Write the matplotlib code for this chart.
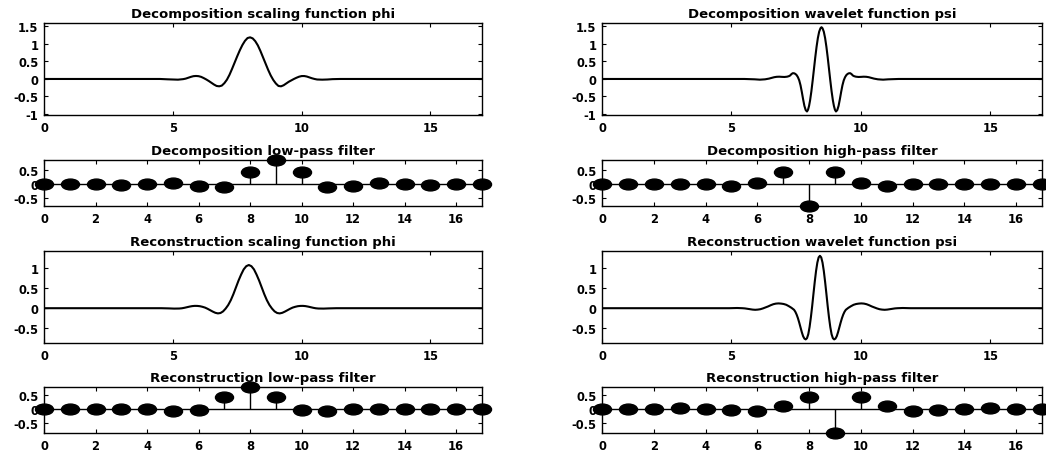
import matplotlib
matplotlib.use('Agg')
import matplotlib.pyplot as plt
from matplotlib.path import Path
from matplotlib.markers import MarkerStyle
from matplotlib.transforms import Affine2D

plt.rcParams['font.family'] = ['DejaVu Sans']

# ---------------- data ----------------
filter_index = list(range(18))

dec_lo = [0, 0.0019, -0.0019, -0.0170, 0.0119, 0.0497, -0.0773, -0.0941, 0.4208,
          0.8259, 0.4208, -0.0941, -0.0773, 0.0497, 0.0119, -0.0170, -0.0019, 0.0019]
dec_hi = [0, 0, 0, 0.0144, -0.0145, -0.0787, 0.0404, 0.4178, -0.7589,
          0.4178, 0.0404, -0.0787, -0.0145, 0.0144, 0, 0, 0, 0]
rec_lo = [0, 0, 0, 0.0144, 0.0145, -0.0787, -0.0404, 0.4178, 0.7589,
          0.4178, -0.0404, -0.0787, 0.0145, 0.0144, 0, 0, 0, 0]
rec_hi = [0, -0.0019, -0.0019, 0.0170, 0.0119, -0.0497, -0.0773, 0.0941, 0.4208,
          -0.8259, 0.4208, 0.0941, -0.0773, -0.0497, 0.0119, 0.0170, -0.0019, -0.0019]

dec_phi_pts = [(0, 0), (4.5, 0), (4.8, -0.01), (5.0, -0.015), (5.2, -0.02), (5.4, -0.005),
               (5.5, 0.01), (5.6, 0.035), (5.7, 0.06), (5.8, 0.08), (5.9, 0.086), (6.0, 0.08),
               (6.1, 0.06), (6.2, 0.025), (6.3, -0.015), (6.4, -0.06), (6.5, -0.11), (6.6, -0.16),
               (6.7, -0.20), (6.8, -0.21), (6.9, -0.19), (7.0, -0.12), (7.1, -0.02), (7.2, 0.12),
               (7.3, 0.29), (7.4, 0.47), (7.5, 0.65), (7.6, 0.82), (7.7, 0.97), (7.8, 1.09),
               (7.9, 1.17), (8.0, 1.19), (8.1, 1.16), (8.2, 1.08), (8.3, 0.96), (8.4, 0.80),
               (8.5, 0.62), (8.6, 0.44), (8.7, 0.26), (8.8, 0.10), (8.9, -0.03), (9.0, -0.13),
               (9.1, -0.20), (9.2, -0.21), (9.3, -0.18), (9.4, -0.13), (9.5, -0.08), (9.6, -0.04),
               (9.7, 0.0), (9.8, 0.035), (9.9, 0.065), (10.0, 0.083), (10.1, 0.084), (10.2, 0.07),
               (10.3, 0.045), (10.4, 0.02), (10.5, 0.0), (10.6, -0.015), (10.8, -0.02),
               (11.0, -0.015), (11.2, -0.005), (11.5, 0), (17, 0)]

dec_psi_pts = [(0, 0), (5.5, 0), (5.9, -0.01), (6.1, -0.02), (6.3, -0.01), (6.45, 0.01),
               (6.55, 0.03), (6.65, 0.05), (6.75, 0.062), (6.85, 0.065), (6.95, 0.06),
               (7.05, 0.057), (7.15, 0.065), (7.22, 0.08), (7.27, 0.10), (7.32, 0.14),
               (7.37, 0.165), (7.42, 0.163), (7.47, 0.145), (7.52, 0.11), (7.57, 0.05),
               (7.62, -0.04), (7.67, -0.18), (7.72, -0.37), (7.77, -0.58), (7.82, -0.77),
               (7.87, -0.89), (7.92, -0.93), (7.96, -0.88), (8.0, -0.77), (8.04, -0.61),
               (8.09, -0.35), (8.14, -0.04), (8.19, 0.29), (8.24, 0.62), (8.29, 0.92),
               (8.34, 1.17), (8.39, 1.35), (8.44, 1.45), (8.48, 1.48), (8.52, 1.45),
               (8.57, 1.35), (8.62, 1.17), (8.67, 0.92), (8.72, 0.62), (8.77, 0.29),
               (8.82, -0.04), (8.87, -0.35), (8.92, -0.61), (8.96, -0.77), (9.0, -0.88),
               (9.04, -0.93), (9.09, -0.89), (9.14, -0.77), (9.19, -0.58), (9.24, -0.37),
               (9.29, -0.18), (9.34, -0.04), (9.39, 0.05), (9.44, 0.11), (9.49, 0.145),
               (9.54, 0.163), (9.59, 0.165), (9.64, 0.14), (9.69, 0.10), (9.74, 0.08),
               (9.81, 0.065), (9.91, 0.057), (10.01, 0.06), (10.11, 0.065), (10.21, 0.062),
               (10.31, 0.05), (10.41, 0.03), (10.51, 0.01), (10.66, -0.01), (10.86, -0.02),
               (11.06, -0.01), (11.46, 0), (17, 0)]

rec_phi_pts = [(0, 0), (4.55, 0), (4.85, -0.005), (5.05, -0.01), (5.25, -0.008), (5.35, -0.002),
               (5.45, 0.01), (5.55, 0.025), (5.65, 0.04), (5.75, 0.052), (5.85, 0.058),
               (5.95, 0.057), (6.05, 0.05), (6.15, 0.035), (6.25, 0.015), (6.35, -0.015),
               (6.45, -0.05), (6.55, -0.085), (6.65, -0.115), (6.75, -0.13), (6.85, -0.12),
               (6.95, -0.08), (7.05, -0.01), (7.15, 0.08), (7.25, 0.20), (7.35, 0.35),
               (7.45, 0.52), (7.55, 0.69), (7.65, 0.84), (7.75, 0.97), (7.85, 1.05),
               (7.95, 1.08), (8.05, 1.05), (8.15, 0.97), (8.25, 0.84), (8.35, 0.69),
               (8.45, 0.52), (8.55, 0.35), (8.65, 0.20), (8.75, 0.08), (8.85, -0.01),
               (8.95, -0.08), (9.05, -0.12), (9.15, -0.13), (9.25, -0.115), (9.35, -0.085),
               (9.45, -0.05), (9.55, -0.015), (9.65, 0.015), (9.75, 0.035), (9.85, 0.05),
               (9.95, 0.057), (10.05, 0.058), (10.15, 0.052), (10.25, 0.04), (10.35, 0.025),
               (10.45, 0.01), (10.55, -0.002), (10.65, -0.008), (10.85, -0.01),
               (11.05, -0.005), (11.35, 0), (17, 0)]

rec_psi_pts = [(0, 0), (4.92, 0), (5.22, 0.005), (5.42, 0.0), (5.52, -0.005), (5.62, -0.015),
               (5.72, -0.025), (5.82, -0.035), (5.92, -0.04), (6.02, -0.035), (6.12, -0.025),
               (6.22, -0.005), (6.32, 0.02), (6.42, 0.045), (6.52, 0.075), (6.62, 0.10),
               (6.72, 0.115), (6.82, 0.12), (6.92, 0.115), (7.02, 0.105), (7.12, 0.085),
               (7.22, 0.05), (7.32, 0.01), (7.42, -0.04), (7.47, -0.09), (7.52, -0.16),
               (7.57, -0.25), (7.62, -0.36), (7.67, -0.48), (7.72, -0.60), (7.77, -0.70),
               (7.82, -0.76), (7.87, -0.78), (7.92, -0.75), (7.97, -0.65), (8.02, -0.47),
               (8.07, -0.23), (8.12, 0.05), (8.17, 0.36), (8.22, 0.66), (8.27, 0.93),
               (8.32, 1.14), (8.37, 1.27), (8.42, 1.31), (8.47, 1.27), (8.52, 1.14),
               (8.57, 0.93), (8.62, 0.66), (8.67, 0.36), (8.72, 0.05), (8.77, -0.23),
               (8.82, -0.47), (8.87, -0.65), (8.92, -0.75), (8.97, -0.78), (9.02, -0.76),
               (9.07, -0.70), (9.12, -0.60), (9.17, -0.48), (9.22, -0.36), (9.27, -0.25),
               (9.32, -0.16), (9.37, -0.09), (9.42, -0.04), (9.52, 0.01), (9.62, 0.05),
               (9.72, 0.085), (9.82, 0.105), (9.92, 0.115), (10.02, 0.12), (10.12, 0.115),
               (10.22, 0.10), (10.32, 0.075), (10.42, 0.045), (10.52, 0.02), (10.62, -0.005),
               (10.72, -0.025), (10.82, -0.035), (10.92, -0.04), (11.02, -0.035),
               (11.12, -0.025), (11.22, -0.015), (11.32, -0.005), (11.42, 0), (11.62, 0.005),
               (11.92, 0), (17, 0)]

titles = ["Decomposition scaling function phi", "Decomposition wavelet function psi",
          "Decomposition low-pass filter", "Decomposition high-pass filter",
          "Reconstruction scaling function phi", "Reconstruction wavelet function psi",
          "Reconstruction low-pass filter", "Reconstruction high-pass filter"]

func_xticks = [0, 5, 10, 15]
filt_xticks = [0, 2, 4, 6, 8, 10, 12, 14, 16]
row1_yticks = [-1, -0.5, 0, 0.5, 1, 1.5]
row1_ylabels = ["-1", "-0.5", "0", "0.5", "1", "1.5"]
row3_yticks = [-0.5, 0, 0.5, 1]
row3_ylabels = ["-0.5", "0", "0.5", "1"]
filt_yticks = [-0.5, 0, 0.5]
filt_ylabels = ["-0.5", "0", "0.5"]

# ---------------- layout ----------------
W, H = 1046, 452
fig = plt.figure(figsize=(W / 100, H / 100), dpi=100)

def px_axes(x0, x1, y0, y1):
    return fig.add_axes([x0 / W, 1 - y1 / H, (x1 - x0) / W, (y1 - y0) / H])

cols = [(44, 482), (602, 1042)]
rows = [(24, 116), (161, 207), (252, 344), (388, 434)]

ellipse = Path.unit_circle().transformed(Affine2D().scale(1.0, 0.6))
emarker = MarkerStyle(ellipse)

TFS = 9.5
KFS = 8.3

def style(ax, xticks, yticks, ylabels, ylim):
    ax.set_xlim(0, 17)
    ax.set_ylim(*ylim)
    ax.set_xticks(xticks)
    ax.set_xticklabels([str(t) for t in xticks])
    ax.set_yticks(yticks)
    ax.set_yticklabels(ylabels)
    ax.tick_params(direction='in', top=True, right=True, length=3, width=0.8,
                   labelsize=KFS, pad=4)
    for lab in ax.get_xticklabels() + ax.get_yticklabels():
        lab.set_fontweight('bold')
    for s in ax.spines.values():
        s.set_linewidth(1.0)
        s.set_color('black')

def func_plot(ax, pts, title, yticks, ylabels, ylim):
    xs, ys = zip(*pts)
    ax.plot(xs, ys, color='black', lw=1.5)
    style(ax, func_xticks, yticks, ylabels, ylim)
    ax.set_title(title, fontsize=TFS, fontweight='bold', pad=4)

def filt_plot(ax, vals, title, ylim):
    ml, sl, bl = ax.stem(filter_index, vals, basefmt='k-')
    ml.set_marker(emarker)
    ml.set_markersize(13)
    ml.set_color('black')
    ml.set_markerfacecolor('black')
    ml.set_clip_on(False)
    ml.set_zorder(4)
    sl.set_color('black')
    sl.set_linewidth(1.0)
    bl.set_color('black')
    bl.set_linewidth(1.0)
    style(ax, filt_xticks, filt_yticks, filt_ylabels, ylim)
    ax.set_title(title, fontsize=TFS, fontweight='bold', pad=4)

row1_ylim = (-1.03, 1.6)
row2_ylim = (-0.76, 0.83)
row3_ylim = (-0.87, 1.43)
row4_ylim = (-0.83, 0.76)

ax = px_axes(*cols[0], *rows[0]); func_plot(ax, dec_phi_pts, titles[0], row1_yticks, row1_ylabels, row1_ylim)
ax = px_axes(*cols[1], *rows[0]); func_plot(ax, dec_psi_pts, titles[1], row1_yticks, row1_ylabels, row1_ylim)
ax = px_axes(*cols[0], *rows[1]); filt_plot(ax, dec_lo, titles[2], row2_ylim)
ax = px_axes(*cols[1], *rows[1]); filt_plot(ax, dec_hi, titles[3], row2_ylim)
ax = px_axes(*cols[0], *rows[2]); func_plot(ax, rec_phi_pts, titles[4], row3_yticks, row3_ylabels, row3_ylim)
ax = px_axes(*cols[1], *rows[2]); func_plot(ax, rec_psi_pts, titles[5], row3_yticks, row3_ylabels, row3_ylim)
ax = px_axes(*cols[0], *rows[3]); filt_plot(ax, rec_lo, titles[6], row4_ylim)
ax = px_axes(*cols[1], *rows[3]); filt_plot(ax, rec_hi, titles[7], row4_ylim)

fig.savefig('out.png', dpi=100)
